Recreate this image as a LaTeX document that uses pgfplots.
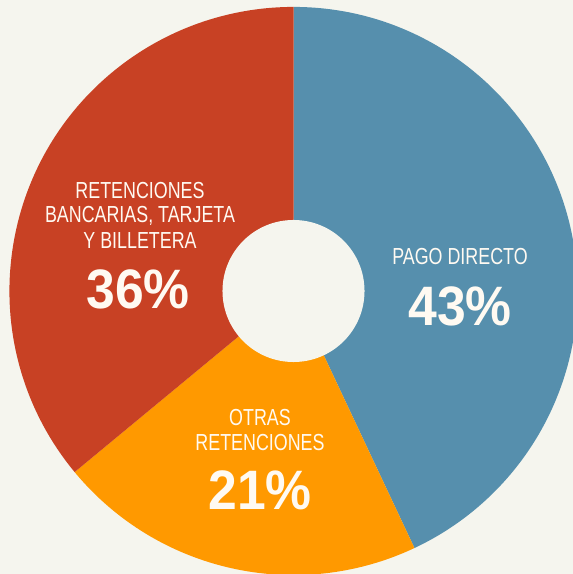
\documentclass[border=0pt]{standalone}
\usepackage{pgfplots}
\pgfplotsset{compat=1.18}
\usepackage{fontspec}
\setmainfont{Liberation Sans}
\definecolor{bg}{HTML}{F5F5EE}
\definecolor{cblue}{HTML}{568FAD}
\definecolor{cred}{HTML}{C84124}
\definecolor{corange}{HTML}{FF9900}
\definecolor{txt}{HTML}{FFFAF2}
% data (percent)
\def\pPago{43}
\def\pOtras{21}
\def\pBanc{36}
\pgfmathsetmacro\aZero{90}
\pgfmathsetmacro\aOne{\aZero-3.6*\pPago}
\pgfmathsetmacro\aTwo{\aOne-3.6*\pOtras}
\pgfmathsetmacro\aThree{\aTwo-3.6*\pBanc}
\newcommand\smf{\fontsize{16.5}{18}\selectfont}
\newcommand\bgf{\fontsize{39.5}{41}\selectfont\bfseries}
\newcommand\sm[1]{\scalebox{0.77}[1]{\smf #1}}
\newcommand\bgt[1]{\scalebox{0.93}[1]{\bgf #1}}
\begin{document}
\begin{tikzpicture}
\begin{axis}[x=0.025cm,y=0.025cm,xmin=0,xmax=573,ymin=0,ymax=574,
  hide axis, clip=true]
\fill[bg] (axis cs:0,0) rectangle (axis cs:573,574);
\fill[cblue] (axis cs:293.5,283) -- ++(\aZero:7.1cm) arc[start angle=\aZero, end angle=\aOne, radius=7.1cm] -- cycle;
\fill[corange] (axis cs:293.5,283) -- ++(\aOne:7.1cm) arc[start angle=\aOne, end angle=\aTwo, radius=7.1cm] -- cycle;
\fill[cred] (axis cs:293.5,283) -- ++(\aTwo:7.1cm) arc[start angle=\aTwo, end angle=\aThree, radius=7.1cm] -- cycle;
\fill[bg] (axis cs:293.5,283) circle[radius=1.775cm];
% labels
\node[txt,inner sep=0pt] at (axis cs:140,383) {\sm{RETENCIONES}};
\node[txt,inner sep=0pt] at (axis cs:140,358) {\sm{BANCARIAS, TARJETA}};
\node[txt,inner sep=0pt] at (axis cs:140,333) {\sm{Y BILLETERA}};
\node[txt,inner sep=0pt] at (axis cs:138,285) {\bgt{\pBanc\%}};
\node[txt,inner sep=0pt] at (axis cs:460,317) {\sm{PAGO DIRECTO}};
\node[txt,inner sep=0pt] at (axis cs:460,268) {\bgt{\pPago\%}};
\node[txt,inner sep=0pt] at (axis cs:260,156) {\sm{OTRAS}};
\node[txt,inner sep=0pt] at (axis cs:260,131) {\sm{RETENCIONES}};
\node[txt,inner sep=0pt] at (axis cs:260,84) {\bgt{\pOtras\%}};
\end{axis}
\end{tikzpicture}
\end{document}
